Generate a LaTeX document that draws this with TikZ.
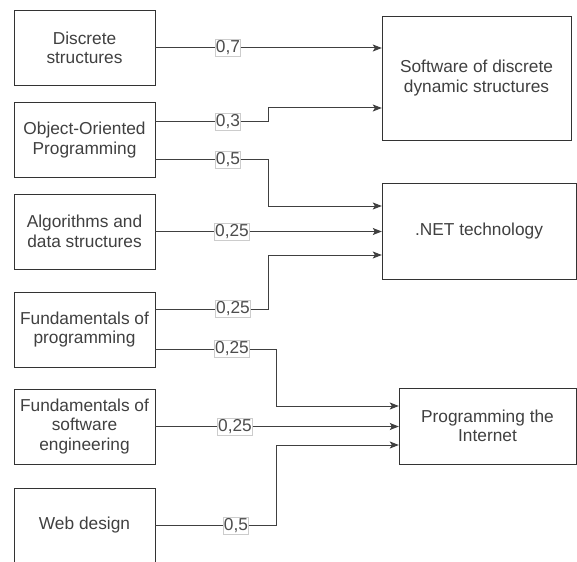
\documentclass[tikz,border=0pt]{standalone}
\usepackage{fontspec}
\setmainfont{Liberation Sans}
\usetikzlibrary{arrows.meta}
\tikzset{
  course/.style={draw=black!80, fill=white, text=black!75, align=center,
    inner sep=2pt, font=\fontsize{17.3}{19.5}\selectfont},
  weight/.style={draw=black!20, fill=white, text=black!70, inner xsep=0.5pt,
    inner ysep=1.5pt, font=\fontsize{17.3}{19.5}\selectfont},
  link/.style={draw=black!75, line width=1pt,
    -{Stealth[length=9pt,width=7pt,inset=2pt]}},
}
\begin{document}
\begin{tikzpicture}[x=1pt,y=-1pt]
    \useasboundingbox (0,0) rectangle (577,561);
    % courses on the left
    \foreach \n/\y/\t in {ds/48/{Discrete\\structures},
        oop/140/{Object-Oriented\\Programming},
        ads/231.5/{Algorithms and\\data structures},
        fp/329.5/{Fundamentals of\\programming},
        fse/426.5/{Fundamentals of\\software\\engineering},
        wd/525.5/{Web design}} {
      \node[course, minimum width=141pt, minimum height=75pt] (\n) at (84.5,\y) {\t};
    }
    % courses on the right
    \node[course, minimum width=189pt, minimum height=124pt] (sdds) at (476.5,78)
      {Software of discrete\\dynamic structures};
    \node[course, minimum width=194pt, minimum height=96pt] (net) at (479,231)
      {.NET technology};
    \node[course, minimum width=177pt, minimum height=76pt] (inet) at (487.5,426)
      {Programming the\\Internet};
    % weights
    \foreach \n/\x/\y/\w in {w1/228/48/{0,7}, w2/228/122/{0,3}, w3/228/159.5/{0,5},
        w4/232/231.5/{0,25}, w5/233/309/{0,25}, w6/232/349/{0,25},
        w7/235/426.5/{0,25}, w8/236/525.5/{0,5}} {
      \node[weight] (\n) at (\x,\y) {\w};
    }
    \coordinate (c1) at (268,0);
    \coordinate (c2) at (276,0);
    \draw[link] (ds.east) -- (w1) -- (w1 -| sdds.west);
    \draw[link] ([yshift=18pt]oop.east) -- (w2) -- (w2 -| c1) |- ([yshift=-30pt]sdds.west);
    \draw[link] ([yshift=-19.5pt]oop.east) -- (w3) -- (w3 -| c1) |- ([yshift=25pt]net.west);
    \draw[link] (ads.east) -- (w4) -- (w4 -| net.west);
    \draw[link] ([yshift=20.5pt]fp.east) -- (w5) -- (w5 -| c1) |- ([yshift=-24pt]net.west);
    \draw[link] ([yshift=-19.5pt]fp.east) -- (w6) -- (w6 -| c2) |- ([yshift=20pt]inet.west);
    \draw[link] (fse.east) -- (w7) -- (w7 -| inet.west);
    \draw[link] (wd.east) -- (w8) -- (w8 -| c2) |- ([yshift=-19pt]inet.west);
  \end{tikzpicture}
\end{document}
